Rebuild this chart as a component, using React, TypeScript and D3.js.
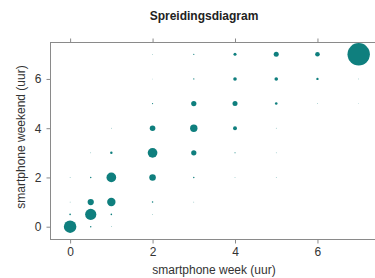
import React, { useRef, useEffect } from "react";
import * as d3 from "d3";

// smartphone use (hours): weekday vs weekend, bubble area = share of respondents
const weekHours = [
  0, 0.5, 1,
  0, 0.5, 1, 2,
  0, 0.5, 1, 2, 3,
  0, 0.5, 1, 2, 3, 4, 5,
  0.5, 1, 2, 3, 4, 5,
  1, 2, 3, 4, 5,
  2, 3, 4, 5, 6, 7,
  2, 3, 4, 5, 6, 7,
  2, 3, 4, 5, 6, 7,
];
const weekendHours = [
  0, 0, 0,
  0.5, 0.5, 0.5, 0.5,
  1, 1, 1, 1, 1,
  2, 2, 2, 2, 2, 2, 2,
  3, 3, 3, 3, 3, 3,
  4, 4, 4, 4, 4,
  5, 5, 5, 5, 5, 5,
  6, 6, 6, 6, 6, 6,
  7, 7, 7, 7, 7, 7,
];
const weights = [
  20, 0.25, 0.06,
  0.33, 16, 0.33, 0.06,
  0.06, 5, 9, 0.3, 0.06,
  0.06, 0.25, 12, 5.5, 0.25, 0.06, 0.06,
  0.06, 0.75, 12, 3.5, 0.15, 0.06,
  0.06, 4, 7, 2, 0.06,
  0.18, 3.5, 3.2, 0.86, 0.06, 0.04,
  0.04, 0.2, 1.65, 1.65, 0.7, 0.05,
  0.06, 0.2, 1.15, 3.2, 2.7, 64,
];

const xTicks = [0, 2, 4, 6];
const yTicks = [0, 2, 4, 6];

const title = "Spreidingsdiagram";
const xTitle = "smartphone week (uur)";
const yTitle = "smartphone weekend (uur)";

const width = 375;
const height = 278;
const margin = { top: 42.5, right: -4, bottom: 38.5, left: 50.5 };
const font = "'Liberation Sans', Arial, sans-serif";

const App: React.FC = () => {
  const svgRef = useRef<SVGSVGElement>(null);

  useEffect(() => {
    if (!svgRef.current) return;
    const svg = d3.select(svgRef.current);
    svg.selectAll("*").remove();

    const left = margin.left;
    const right = width - margin.right;
    const top = margin.top;
    const bottom = height - margin.bottom;

    const x = d3.scaleLinear().domain([-0.5, 7.5]).range([49.5, 379.3]);
    const y = d3.scaleLinear().domain([-0.5, 7.5]).range([239, 42]);
    const r = d3.scaleSqrt().domain([0, 64]).range([0, 11.2]);

    const points = weekHours.map((wx, i) => ({
      wx,
      wy: weekendHours[i],
      w: weights[i],
    }));

    // frame
    svg
      .append("rect")
      .attr("x", left)
      .attr("y", top)
      .attr("width", right - left)
      .attr("height", bottom - top)
      .attr("fill", "none")
      .attr("stroke", "#8a8a8a")
      .attr("stroke-width", 1);

    // ticks
    const tickStyle = (g: any) => {
      g.select(".domain").remove();
      g.selectAll("line").attr("stroke", "#8a8a8a");
      g.selectAll("text")
        .attr("fill", "#333")
        .style("font-family", font)
        .style("font-size", "12px");
    };

    svg
      .append("g")
      .attr("transform", `translate(0,${bottom})`)
      .call(d3.axisBottom(x).tickValues(xTicks).tickSize(4).tickPadding(4))
      .call(tickStyle);

    svg
      .append("g")
      .attr("transform", `translate(0,${top})`)
      .call(
        d3.axisTop(x).tickValues(xTicks).tickSize(4).tickFormat(() => "")
      )
      .call(tickStyle);

    svg
      .append("g")
      .attr("transform", `translate(${left},0)`)
      .call(d3.axisLeft(y).tickValues(yTicks).tickSize(4).tickPadding(5))
      .call(tickStyle);

    // bubbles
    svg
      .append("g")
      .selectAll("circle")
      .data(points.sort((a, b) => b.w - a.w))
      .join("circle")
      .attr("cx", (d) => x(d.wx))
      .attr("cy", (d) => y(d.wy))
      .attr("r", (d) => r(d.w))
      .attr("fill", "#0f7f7e");

    // titles
    svg
      .append("text")
      .attr("x", 204)
      .attr("y", 20)
      .attr("text-anchor", "middle")
      .style("font-family", font)
      .style("font-size", "12px")
      .style("font-weight", "bold")
      .attr("fill", "#222")
      .text(title);

    svg
      .append("text")
      .attr("x", 214)
      .attr("y", 274)
      .attr("text-anchor", "middle")
      .style("font-family", font)
      .style("font-size", "12px")
      .attr("fill", "#333")
      .text(xTitle);

    svg
      .append("text")
      .attr("transform", `translate(25,137) rotate(-90)`)
      .attr("text-anchor", "middle")
      .style("font-family", font)
      .style("font-size", "12px")
      .attr("fill", "#333")
      .text(yTitle);
  }, []);

  return (
    <svg
      ref={svgRef}
      width={width}
      height={height}
      style={{ position: "absolute", left: 0, top: 0, background: "#fff" }}
    ></svg>
  );
};

export default App;
